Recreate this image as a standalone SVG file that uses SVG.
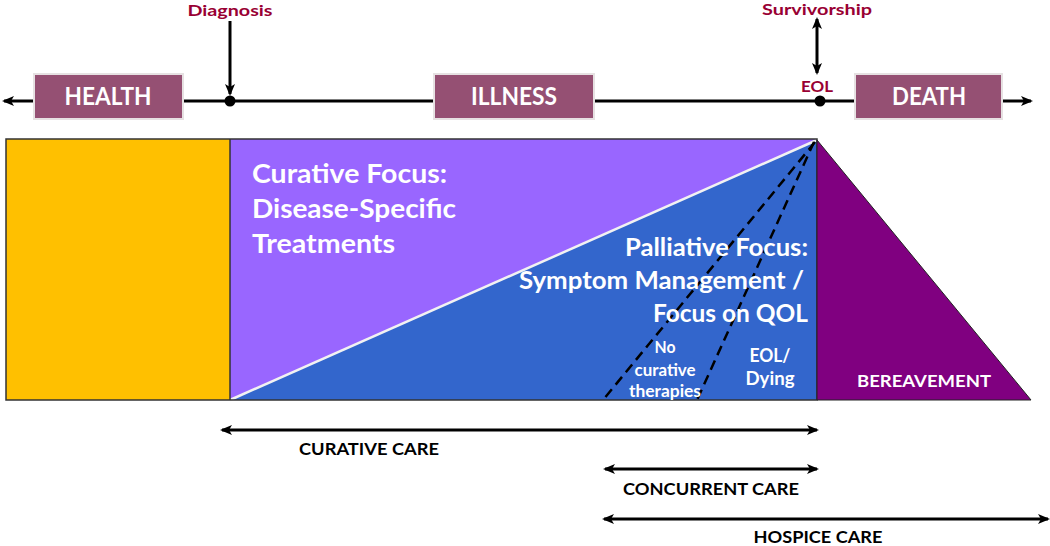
<svg xmlns="http://www.w3.org/2000/svg" width="1050" height="546" viewBox="0 0 1050 546">
<style>
text{font-family:Lato,"Open Sans","Liberation Sans",sans-serif;font-weight:bold}
.box{fill:#955073;stroke:#e6e1e2;stroke-width:2}
.bl{fill:#fff;font-size:24px;text-anchor:middle}
.red{fill:#990033;font-size:16px;text-anchor:middle}
.big{fill:#fff;font-size:26px}
.pal{fill:#fff;font-size:25px;text-anchor:end}
.sm{fill:#fff;font-size:17px;text-anchor:middle}
.lg{fill:#fff;font-size:19px;text-anchor:middle}
.care{fill:#000;font-size:17px;text-anchor:middle}
.tl{stroke:#000;stroke-width:3;fill:none}
.dash{stroke:#000;stroke-width:2.5;stroke-dasharray:10 6;fill:none}
</style>
<defs>
<marker id="ah" markerUnits="userSpaceOnUse" markerWidth="12" markerHeight="10" refX="10" refY="5" orient="auto-start-reverse" viewBox="0 0 12 10">
<path d="M0,0 L12,5 L0,10 L3,5 z" fill="#000"/>
</marker>
</defs>

<g id="panels">
<rect x="6" y="139" width="224" height="261" fill="#ffc000"/>
<rect x="230" y="139" width="587" height="261" fill="#9966ff"/>
<polygon points="230,400 817,140 817,400" fill="#3366cc"/>
<line x1="230" y1="400" x2="817" y2="140" stroke="#f2f2f2" stroke-width="2.5"/>
<rect x="6" y="139" width="811" height="261" fill="none" stroke="#333" stroke-width="1.5"/>
<line x1="230" y1="139" x2="230" y2="400" stroke="#333" stroke-width="1.5"/>
<polygon points="817,140 1031,400 817,400" fill="#800080" stroke="#222" stroke-width="1"/>
</g>

<g id="connectors">
<line class="tl" x1="33" y1="101" x2="4" y2="101" marker-end="url(#ah)"/>
<line class="tl" x1="183" y1="101" x2="434" y2="101"/>
<line class="tl" x1="594" y1="101" x2="855" y2="101"/>
<line class="tl" x1="1002" y1="101" x2="1031" y2="101" marker-end="url(#ah)"/>
<line class="tl" x1="230" y1="21" x2="230" y2="94" stroke-width="2.5" marker-end="url(#ah)"/>
<line class="tl" x1="817" y1="19" x2="817" y2="73" stroke-width="2.5" marker-start="url(#ah)" marker-end="url(#ah)"/>
<line class="dash" x1="815" y1="142" x2="603" y2="400"/>
<line class="dash" x1="814" y1="142" x2="697" y2="400"/>
<line class="tl" x1="222" y1="430" x2="817" y2="430" marker-start="url(#ah)" marker-end="url(#ah)"/>
<line class="tl" x1="605" y1="469" x2="817" y2="469" marker-start="url(#ah)" marker-end="url(#ah)"/>
<line class="tl" x1="604" y1="519" x2="1048" y2="519" marker-start="url(#ah)" marker-end="url(#ah)"/>
</g>

<g id="diagnosis">
<circle cx="230" cy="101" r="5.5" fill="#000"/>
<text class="red" x="230" y="16" textLength="85" lengthAdjust="spacingAndGlyphs">Diagnosis</text>
</g>
<g id="eol">
<circle cx="820" cy="101" r="5.5" fill="#000"/>
<text class="red" x="817" y="92" textLength="32" lengthAdjust="spacingAndGlyphs">EOL</text>
</g>
<g id="survivorship">
<text class="red" x="817" y="15" textLength="110" lengthAdjust="spacingAndGlyphs">Survivorship</text>
</g>

<g id="health">
<rect class="box" x="34" y="74" width="149" height="45"/>
<text class="bl" x="108" y="105" textLength="87" lengthAdjust="spacingAndGlyphs">HEALTH</text>
</g>
<g id="illness">
<rect class="box" x="434" y="74" width="160" height="45"/>
<text class="bl" x="514" y="105" textLength="86" lengthAdjust="spacingAndGlyphs">ILLNESS</text>
</g>
<g id="death">
<rect class="box" x="855" y="74" width="147" height="45"/>
<text class="bl" x="929" y="105" textLength="74" lengthAdjust="spacingAndGlyphs">DEATH</text>
</g>

<g id="curative-focus">
<text class="big" x="252" y="183" textLength="195" lengthAdjust="spacingAndGlyphs">Curative Focus:</text>
<text class="big" x="252" y="218" textLength="204" lengthAdjust="spacingAndGlyphs">Disease-Specific</text>
<text class="big" x="252" y="253" textLength="143" lengthAdjust="spacingAndGlyphs">Treatments</text>
</g>

<g id="palliative-focus">
<text class="pal" x="808" y="256" textLength="183" lengthAdjust="spacingAndGlyphs">Palliative Focus:</text>
<text class="pal" x="804" y="289" textLength="285" lengthAdjust="spacingAndGlyphs">Symptom Management /</text>
<text class="pal" x="808" y="322" textLength="155" lengthAdjust="spacingAndGlyphs">Focus on QOL</text>
</g>

<g id="no-curative">
<text class="sm" x="665" y="353" textLength="21" lengthAdjust="spacingAndGlyphs">No</text>
<text class="sm" x="665" y="376" textLength="61" lengthAdjust="spacingAndGlyphs">curative</text>
<text class="sm" x="665" y="397" textLength="72" lengthAdjust="spacingAndGlyphs">therapies</text>
</g>
<g id="eol-dying">
<text class="lg" x="770" y="362" textLength="41" lengthAdjust="spacingAndGlyphs">EOL/</text>
<text class="lg" x="770" y="385" textLength="49" lengthAdjust="spacingAndGlyphs">Dying</text>
</g>
<g id="bereavement">
<text class="sm" x="924" y="387" textLength="134" lengthAdjust="spacingAndGlyphs">BEREAVEMENT</text>
</g>

<g id="curative-care">
<text class="care" x="369" y="455" textLength="140" lengthAdjust="spacingAndGlyphs">CURATIVE CARE</text>
</g>
<g id="concurrent-care">
<text class="care" x="711" y="495" textLength="176" lengthAdjust="spacingAndGlyphs">CONCURRENT CARE</text>
</g>
<g id="hospice-care">
<text class="care" x="818" y="543" textLength="129" lengthAdjust="spacingAndGlyphs">HOSPICE CARE</text>
</g>
</svg>
